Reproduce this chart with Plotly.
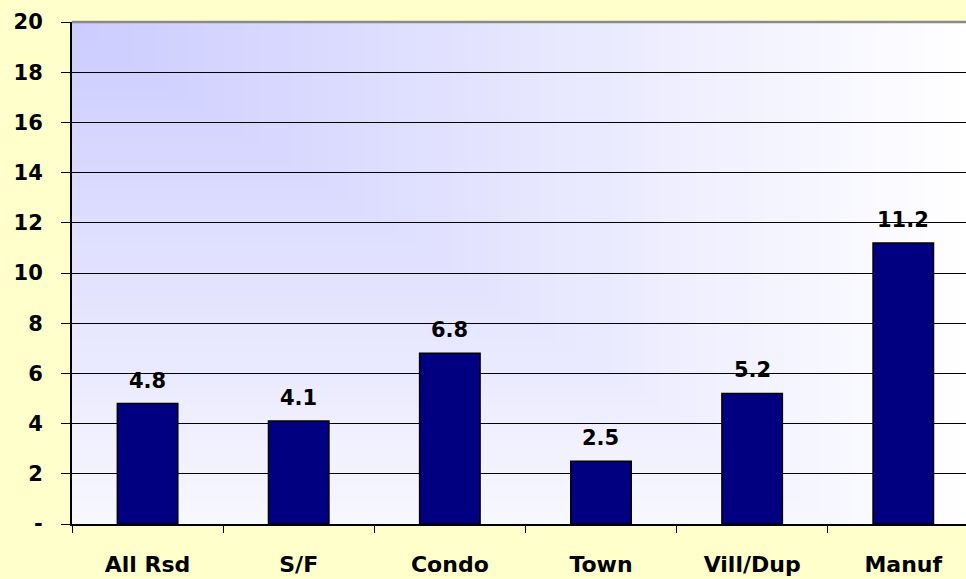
import base64
import struct
import zlib

import plotly.graph_objects as go

categories = ["All Rsd", "S/F", "Condo", "Town", "Vill/Dup", "Manuf"]
values = [4.8, 4.1, 6.8, 2.5, 5.2, 11.2]
value_labels = ["4.8", "4.1", "6.8", "2.5", "5.2", "11.2"]
y_tickvals = [0, 2, 4, 6, 8, 10, 12, 14, 16, 18, 20]
y_ticktext = ["-", "2", "4", "6", "8", "10", "12", "14", "16", "18", "20"]


def gradient_png(w, h, c0, c1, yscale):
    rows = b""
    for j in range(h):
        row = b"\x00"
        for i in range(w):
            u = (i + 0.5) / w
            v = (j + 0.5) / h
            t = min(1.0, max(u, yscale * v))
            row += bytes(int(round(c0[k] + (c1[k] - c0[k]) * t)) for k in range(3))
        rows += row

    def chunk(tag, data):
        c = struct.pack(">I", len(data)) + tag + data
        return c + struct.pack(">I", zlib.crc32(tag + data) & 0xFFFFFFFF)

    png = b"\x89PNG\r\n\x1a\n"
    png += chunk(b"IHDR", struct.pack(">IIBBBBB", w, h, 8, 2, 0, 0, 0))
    png += chunk(b"IDAT", zlib.compress(rows, 9))
    png += chunk(b"IEND", b"")
    return "data:image/png;base64," + base64.b64encode(png).decode()


bg = gradient_png(180, 100, (0xCC, 0xCC, 0xFF), (0xFF, 0xFF, 0xFF), 0.86)

fig = go.Figure()
fig.add_trace(go.Bar(
    x=categories,
    y=values,
    width=0.4,
    marker=dict(color="#000080", line=dict(color="#000000", width=1.5)),
    hoverinfo="skip",
))

for c, v, lab in zip(categories, values, value_labels):
    fig.add_annotation(
        x=c, y=v, text=lab, showarrow=False, yanchor="bottom", yshift=9,
        font=dict(family="DejaVu Sans", size=21, color="#000000", weight="bold"),
    )

fig.add_layout_image(dict(
    source=bg, xref="paper", yref="paper", x=0, y=1, sizex=1, sizey=1,
    xanchor="left", yanchor="top", sizing="stretch", layer="below",
))

fig.add_shape(type="line", xref="paper", yref="paper", x0=0, x1=1, y0=1, y1=1,
              line=dict(color="#8a8a8a", width=2.5), layer="above")

fig.update_layout(
    width=966,
    height=579,
    margin=dict(l=72, r=0, t=22, b=55),
    paper_bgcolor="#FFFFCC",
    plot_bgcolor="rgba(0,0,0,0)",
    showlegend=False,
    xaxis=dict(
        range=[-0.5, 5.415],
        showgrid=False,
        showline=True,
        linecolor="#000000",
        linewidth=1.5,
        ticks="outside",
        tickson="boundaries",
        ticklen=7,
        tickcolor="#000000",
        tickwidth=1,
        ticklabelstandoff=20,
        tickfont=dict(family="DejaVu Sans", size=22, color="#000000", weight="bold"),
        fixedrange=True,
    ),
    yaxis=dict(
        range=[0, 20],
        tickvals=y_tickvals,
        ticktext=y_ticktext,
        showgrid=True,
        gridcolor="#000000",
        gridwidth=1,
        zeroline=False,
        showline=True,
        linecolor="#000000",
        linewidth=2,
        ticks="outside",
        ticklen=9,
        tickcolor="#000000",
        tickwidth=1,
        ticklabelstandoff=14,
        tickfont=dict(family="DejaVu Sans", size=21, color="#000000", weight="bold"),
        fixedrange=True,
    ),
)

fig.write_html(
    "out.html",
    config={"displayModeBar": False},
    post_script="document.body.style.margin='0';document.body.style.background='#FFFFCC';",
)
